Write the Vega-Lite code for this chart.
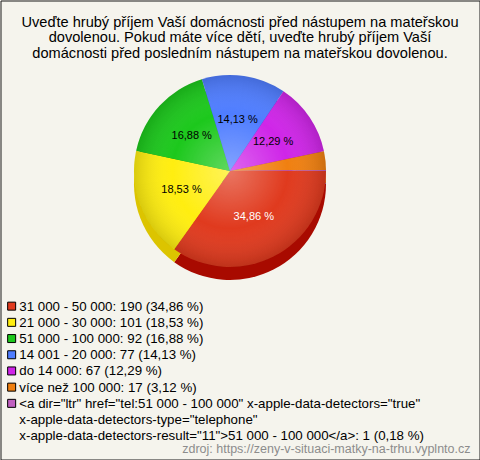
{
  "$schema": "https://vega.github.io/schema/vega-lite/v6.json",
  "width": 479,
  "height": 459,
  "padding": 0.5,
  "autosize": {"type": "none"},
  "background": "#f5f4ed",
  "config": {"view": {"stroke": "#1a1a1a", "strokeWidth": 1}, "font": "Liberation Sans"},
  "title": {
    "text": ["Uveďte hrubý příjem Vaší domácnosti před nástupem na mateřskou", "dovolenou. Pokud máte více dětí, uveďte hrubý příjem Vaší", "domácnosti před posledním nástupem na mateřskou dovolenou."],
    "fontSize": 14.6,
    "fontWeight": "normal",
    "color": "#000000",
    "lineHeight": 15.5,
    "offset": -60,
    "anchor": "middle",
    "font": "Liberation Sans"
  },
  "data": {
    "values": [
      {"label": "31 000 - 50 000: 190 (34,86 %)", "count": 190, "pct": "34,86 %", "order": 1},
      {"label": "21 000 - 30 000: 101 (18,53 %)", "count": 101, "pct": "18,53 %", "order": 2},
      {"label": "51 000 - 100 000: 92 (16,88 %)", "count": 92, "pct": "16,88 %", "order": 3},
      {"label": "14 001 - 20 000: 77 (14,13 %)", "count": 77, "pct": "14,13 %", "order": 4},
      {"label": "do 14 000: 67 (12,29 %)", "count": 67, "pct": "12,29 %", "order": 5},
      {"label": "více než 100 000: 17 (3,12 %)", "count": 17, "pct": "3,12 %", "order": 6},
      {"label": "<a dir=\"ltr\" href=\"tel:51 000 - 100 000\" x-apple-data-detectors=\"true\"|x-apple-data-detectors-type=\"telephone\"|x-apple-data-detectors-result=\"11\">51 000 - 100 000</a>: 1 (0,18 %)", "count": 1, "pct": "0,18 %", "order": 7}
    ]
  },
  "resolve": {"scale": {"color": "independent"}, "legend": {"color": "independent"}},
  "layer": [
    {
      "mark": {"type": "arc", "outerRadius": 96, "xOffset": -10, "yOffset": -46},
      "encoding": {
        "theta": {"field": "count", "type": "quantitative", "stack": true, "scale": {"range": [1.5708, 7.854]}},
        "order": {"field": "order", "type": "quantitative"},
        "color": {
          "field": "label", "type": "nominal", "legend": null,
          "scale": {"range": ["#a80a00", "#dcc400", "#109010", "#3050c0", "#9010a0", "#c86000", "#905090"]},
          "sort": {"field": "order"}
        }
      }
    },
    {
      "mark": {"type": "arc", "outerRadius": 96, "xOffset": -10, "yOffset": -59},
      "encoding": {
        "theta": {"field": "count", "type": "quantitative", "stack": true, "scale": {"range": [1.5708, 7.854]}},
        "order": {"field": "order", "type": "quantitative"},
        "color": {
          "field": "label", "type": "nominal",
          "sort": {"field": "order"},
          "scale": {"range": ["#e03a1e", "#ffee10", "#1cc81c", "#4f7dff", "#cf25e8", "#f08010", "#c060c0"]},
          "legend": {
            "orient": "none", "legendX": 4.5, "legendY": 299, "title": null,
            "symbolType": "square", "symbolSize": 64, "symbolStrokeColor": "#000000", "symbolStrokeWidth": 1,
            "labelFontSize": 13.3, "labelColor": "#000000", "labelFont": "Liberation Sans", "labelLimit": 480,
            "rowPadding": 2.2, "labelOffset": 1, "labelBaseline": "alphabetic",
            "labelExpr": "split(datum.label, '|')",
            "encode": {"labels": {"update": {"lineHeight": {"value": 16}, "dy": {"value": 4.5}}}}
          }
        }
      }
    },
    {
      "data": {"values": [{"shade": 1}]},
      "mark": {"type": "arc", "outerRadius": 96, "xOffset": -10, "yOffset": -59,
        "color": {"gradient": "radial", "x1": 0.5, "y1": 0.5, "r1": 0, "x2": 0.5, "y2": 0.5, "r2": 0.5,
          "stops": [{"offset": 0, "color": "rgba(255,255,255,0.3)"}, {"offset": 0.6, "color": "rgba(255,255,255,0)"}, {"offset": 1, "color": "rgba(0,0,0,0.15)"}]}},
      "encoding": {"theta": {"value": 0}, "theta2": {"value": 6.2832}}
    },
    {
      "mark": {"type": "text", "radius": 52, "xOffset": -10, "yOffset": -59, "fontSize": 11, "font": "Liberation Sans"},
      "encoding": {
        "theta": {"field": "count", "type": "quantitative", "stack": true, "scale": {"range": [1.5708, 7.854]}},
        "order": {"field": "order", "type": "quantitative"},
        "text": {"condition": {"test": "datum.count < 20", "value": ""}, "field": "pct"},
        "color": {"condition": {"test": "datum.order == 1", "value": "#ffffff"}, "value": "#000000"}
      }
    },
    {
      "data": {"values": [{"src": "zdroj: https://zeny-v-situaci-matky-na-trhu.vyplnto.cz"}]},
      "mark": {"type": "text", "align": "right", "baseline": "alphabetic", "fontSize": 12.5, "color": "#8c8c8c", "font": "Liberation Sans", "xOffset": -9, "yOffset": -6.5},
      "encoding": {"x": {"value": "width"}, "y": {"value": "height"}, "text": {"field": "src"}}
    }
  ]
}
